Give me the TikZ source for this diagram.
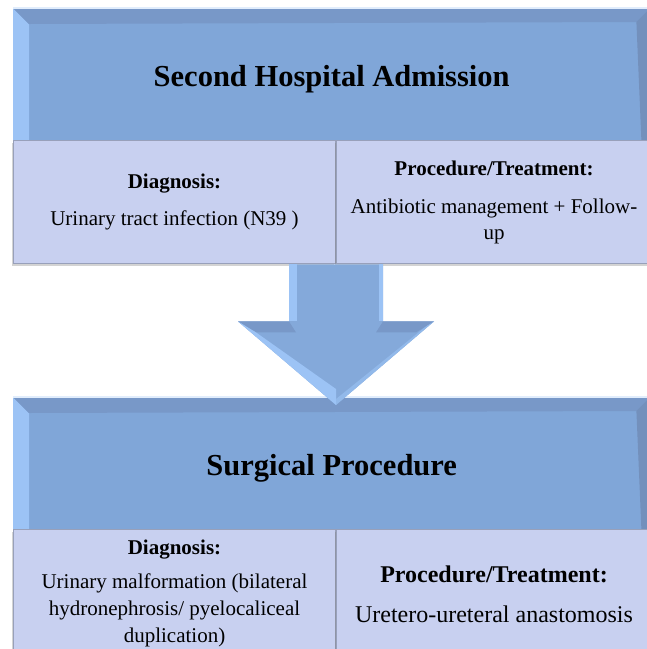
\documentclass[tikz,border=0pt]{standalone}
\usepackage{fontspec}
\setmainfont{Liberation Serif}
\usepackage{xcolor}
\usepackage{tikz}
\usetikzlibrary{positioning, calc, shadows}

\definecolor{bannerblue}{HTML}{80A6D8}
\definecolor{bevellight}{HTML}{9CC3F5}
\definecolor{beveltop}{HTML}{7898C8}
\definecolor{beveldark}{HTML}{7390BC}
\definecolor{cellfill}{HTML}{C8D0F0}
\definecolor{cellline}{HTML}{98A0BA}
\definecolor{arrowblue}{HTML}{84A9DA}

\tikzstyle{banner} = [rectangle, fill=bannerblue, minimum width=637pt, minimum height=132pt, inner sep=0pt]
\tikzstyle{title} = [font=\fontsize{30.5}{36}\selectfont\bfseries, inner sep=0pt]
\tikzstyle{cell} = [rectangle, draw=cellline, fill=cellfill, line width=1pt, inner sep=4pt, align=center,
    font=\fontsize{21}{26}\selectfont,
    drop shadow={shadow xshift=-1.5pt, shadow yshift=-2pt, opacity=0.35, fill=gray}]

% bevelled edges of a banner (left, top, right)
\newcommand{\drawbevel}[1]{%
    \fill[bevellight] (#1.north west) -- ($(#1.north west)+(16,16)$) -- ($(#1.south west)+(16,0)$) -- (#1.south west) -- cycle;
    \fill[beveltop] (#1.north west) -- (#1.north east) -- ($(#1.north east)+(-14,14)$) -- ($(#1.north west)+(16,16)$) -- cycle;
    \fill[beveldark] (#1.north east) -- (#1.south east) -- ($(#1.south east)+(-9,0)$) -- ($(#1.north east)+(-14,14)$) -- cycle;
    \draw[white!70!bevellight, line width=1.2pt] (#1.north west) -- (#1.north east);
}

\begin{document}
\begin{tikzpicture}[x=1pt, y=-1pt]
    \useasboundingbox (0,0) rectangle (647,649);

    % Banners
    \node[banner, anchor=north west] (adm) at (13,8) {};
    \drawbevel{adm}
    \node[title] (admtitle) at ($(adm.center)+(0,5)$) {Second Hospital Admission};

    \node[banner, anchor=north west] (surg) at (13,397) {};
    \drawbevel{surg}
    \node[title] (surgtitle) at ($(surg.center)+(0,5)$) {Surgical Procedure};

    % Cells under the first banner
    \node[cell, anchor=north west, minimum width=322pt, minimum height=123pt] (diag1) at (adm.south west)
        {\textbf{Diagnosis:}\\[11pt]Urinary tract infection (N39 )};
    \node[cell, anchor=north west, minimum width=315pt, minimum height=123pt] (proc1) at (diag1.north east)
        {\textbf{Procedure/Treatment:}\\[12pt]Antibiotic management + Follow-\\up};

    % Cells under the second banner
    \node[cell, anchor=north west, minimum width=322pt, minimum height=128pt,
          font=\fontsize{21}{27}\selectfont] (diag2) at (surg.south west)
        {\textbf{Diagnosis:}\\[7pt]Urinary malformation (bilateral\\hydronephrosis/ pyelocaliceal\\duplication)};
    \node[cell, anchor=north west, minimum width=315pt, minimum height=128pt,
          font=\fontsize{24}{30}\selectfont] (proc2) at (diag2.north east)
        {\textbf{Procedure/Treatment:}\\[10pt]Uretero-ureteral anastomosis};

    % Block arrow between the two stages
    \coordinate (atop) at (diag1.south east);
    \coordinate (atip) at ($(atop |- surg.north)+(0,8)$);
    \fill[arrowblue] ($(atop)+(-47,0)$) -- ($(atop)+(47,0)$) -- ($(atop)+(47,57)$) -- ($(atop)+(98,57)$)
        -- (atip) -- ($(atop)+(-98,57)$) -- ($(atop)+(-47,57)$) -- cycle;
    \fill[bevellight] ($(atop)+(-47,0)$) -- ($(atop)+(-39,0)$) -- ($(atop)+(-39,57)$) -- ($(atop)+(-47,57)$) -- cycle;
    \fill[bevellight] ($(atop)+(47,0)$) -- ($(atop)+(43,0)$) -- ($(atop)+(43,57)$) -- ($(atop)+(47,57)$) -- cycle;
    \fill[beveltop] ($(atop)+(-98,57)$) -- ($(atop)+(-47,57)$) -- ($(atop)+(-40,68)$) -- ($(atop)+(-80,68)$) -- cycle;
    \fill[beveltop] ($(atop)+(98,57)$) -- ($(atop)+(47,57)$) -- ($(atop)+(40,68)$) -- ($(atop)+(80,68)$) -- cycle;
    \fill[bevellight] ($(atop)+(-98,57)$) -- (atip) -- ($(atip)+(0,-16)$) -- ($(atop)+(-80,68)$) -- cycle;
    \fill[bevellight!60!arrowblue] ($(atop)+(98,57)$) -- (atip) -- ($(atip)+(0,-6)$) -- ($(atop)+(90,62)$) -- cycle;
\end{tikzpicture}
\end{document}
